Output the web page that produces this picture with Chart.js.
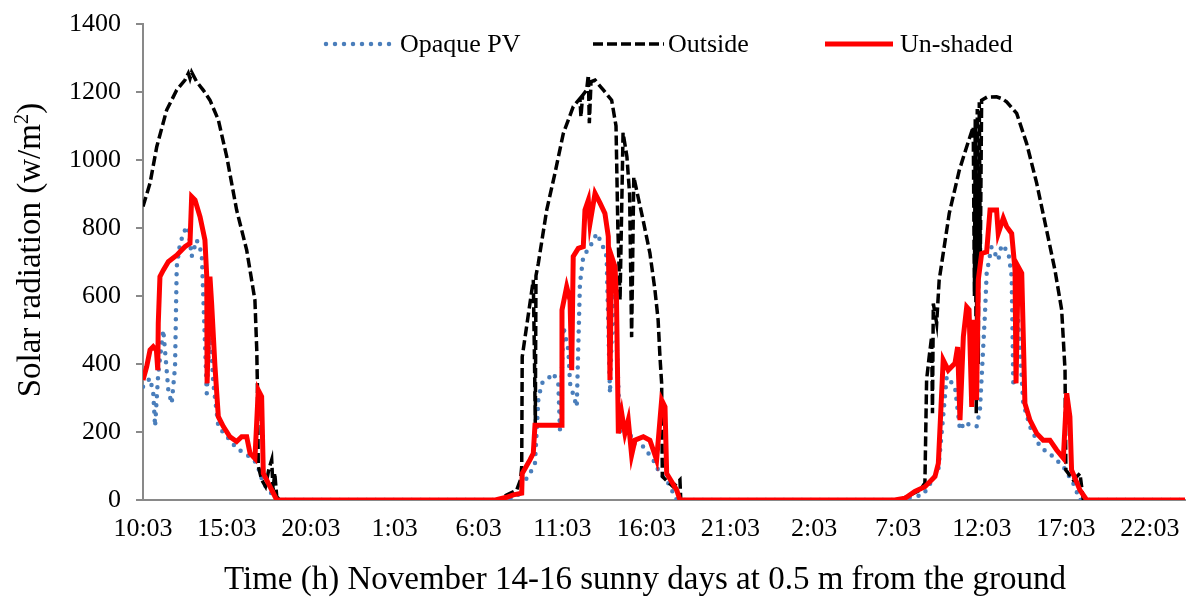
<!DOCTYPE html>
<html>
<head>
<meta charset="utf-8">
<script src="https://cdn.jsdelivr.net/npm/chart.js@4.4.0/dist/chart.umd.min.js"></script>
<style>
  body { margin: 0; background: #fff; }
  #wrap { width: 1190px; height: 607px; }
</style>
</head>
<body>
<div id="wrap"><canvas id="solarChart"></canvas></div>
<script>
// x = hours since 10:03 on November 14
const tickLabels = ['10:03', '15:03', '20:03', '1:03', '6:03', '11:03', '16:03',
  '21:03', '2:03', '7:03', '12:03', '17:03', '22:03'];

const opaquePV = [
  [0, 333], [0.42, 358], [0.61, 314], [0.72, 216], [0.82, 300], [0.91, 373], [1.21, 500],
  [1.41, 382], [1.51, 323], [1.71, 284], [1.91, 392], [2.01, 686], [2.21, 755], [2.5, 794],
  [2.7, 804], [2.9, 716], [3.2, 765], [3.5, 726], [3.8, 314], [3.99, 520], [4.19, 343],
  [4.49, 216], [5.18, 176], [5.58, 152], [6.38, 127], [6.78, 108], [7.17, 49], [7.97, 0],
  [21.5, 0], [22.3, 10], [22.66, 49], [23.06, 78], [23.36, 108], [23.56, 294], [23.76, 343],
  [24.06, 353], [24.45, 373], [24.75, 343], [24.85, 206], [25.05, 510], [25.35, 441],
  [25.45, 343], [25.85, 274], [26.04, 637], [26.24, 716], [26.64, 745], [27.04, 784],
  [27.34, 755], [27.63, 716], [27.83, 314], [28.03, 637], [28.13, 600], [28.43, 196],
  [28.83, 225], [29.22, 167], [29.82, 157], [30.41, 118], [30.81, 78], [31.21, 59], [31.81, 0],
  [45.0, 0], [46.5, 15], [47.4, 88], [47.9, 363], [48.39, 333], [48.69, 206], [48.99, 230],
  [49.28, 220], [49.68, 216], [49.88, 265], [50.18, 549], [50.28, 667], [50.57, 745],
  [50.97, 706], [51.17, 750], [51.57, 730], [51.77, 657], [51.87, 333], [52.16, 529],
  [52.46, 284], [52.86, 216], [53.46, 157], [54.25, 127], [54.85, 98], [55.44, 49],
  [55.84, 0], [62.1, 0]
];

const outside = [
  [0, 863], [0.42, 932], [0.82, 1039], [1.41, 1147], [2.01, 1206], [2.5, 1235], [2.7, 1255],
  [2.8, 1240], [2.9, 1258], [3.2, 1230], [3.6, 1205], [3.99, 1176], [4.49, 1118], [4.99, 1010],
  [5.58, 853], [6.18, 735], [6.67, 588], [6.78, 441], [6.82, 330], [6.87, 100], [7.07, 60],
  [7.3, 40], [7.5, 90], [7.67, 118], [7.75, 30], [7.85, 80], [7.97, 10], [8.16, 0],
  [21.3, 0], [21.67, 15], [22.27, 29], [22.5, 60], [22.57, 98], [22.6, 421], [23.06, 578],
  [23.26, 647], [23.33, 420], [23.38, 216], [23.42, 660], [23.56, 696], [24.06, 853],
  [24.55, 961], [25.05, 1078], [25.64, 1157], [26.04, 1181], [26.1, 1127], [26.2, 1190],
  [26.44, 1206], [26.54, 1250], [26.6, 1108], [26.7, 1230], [26.94, 1235], [27.43, 1206],
  [27.93, 1176], [28.19, 1100], [28.3, 800], [28.43, 588], [28.61, 1080], [28.84, 1010],
  [29.0, 900], [29.12, 479], [29.25, 950], [29.38, 920], [29.8, 824], [30.21, 726],
  [30.51, 618], [30.7, 529], [30.81, 420], [30.91, 343], [30.95, 69], [31.6, 39], [32.0, 59],
  [32.05, 0],
  [45.11, 0], [46.3, 29], [46.6, 50], [46.7, 353], [46.85, 420], [47.0, 480], [47.05, 255],
  [47.1, 578], [47.3, 520], [47.45, 647], [48.05, 843], [48.65, 970], [49.09, 1039],
  [49.48, 1098], [49.55, 600], [49.6, 1120], [49.66, 255], [49.72, 1150], [49.78, 400],
  [49.84, 1170], [49.9, 700], [49.98, 1176], [50.3, 1185], [50.87, 1186], [51.2, 1180],
  [51.47, 1171], [52.07, 1137], [52.66, 1049], [53.26, 932], [53.85, 794], [54.35, 676],
  [54.75, 559], [54.95, 382], [55.0, 88], [55.44, 59], [55.84, 78], [56.04, 0], [62.1, 0]
];

const unShaded = [
  [0, 353], [0.22, 392], [0.42, 441], [0.61, 451], [0.8, 440], [0.88, 382], [0.91, 520],
  [1.01, 657], [1.21, 676], [1.51, 701], [2.01, 720], [2.5, 745], [2.8, 755], [2.9, 892],
  [3.1, 882], [3.4, 833], [3.69, 765], [3.8, 657], [3.82, 343], [3.99, 657], [4.09, 578],
  [4.29, 392], [4.49, 245], [4.79, 216], [5.18, 186], [5.58, 172], [5.88, 186], [6.18, 186],
  [6.38, 137], [6.67, 122], [6.87, 323], [7.07, 304], [7.17, 78], [7.57, 39], [7.97, 0],
  [21.0, 0], [21.67, 8], [22.07, 15], [22.57, 20], [22.6, 78], [23.06, 118], [23.26, 137],
  [23.36, 220], [24.95, 220], [24.97, 559], [25.25, 627], [25.45, 588], [25.55, 382],
  [25.64, 716], [25.94, 740], [26.24, 745], [26.34, 853], [26.54, 882], [26.64, 814],
  [26.94, 902], [27.24, 873], [27.53, 843], [27.73, 775], [27.83, 353], [27.93, 716],
  [28.13, 686], [28.22, 588], [28.33, 196], [28.53, 255], [28.72, 196], [28.92, 235],
  [29.12, 132], [29.32, 176], [29.82, 186], [30.21, 176], [30.61, 118], [30.91, 294],
  [31.11, 274], [31.21, 78], [31.81, 29], [32.0, 0],
  [44.8, 0], [45.41, 5], [46.0, 25], [46.6, 39], [47.2, 69], [47.4, 108], [47.69, 412],
  [47.99, 382], [48.39, 402], [48.55, 450], [48.69, 235], [48.89, 480], [49.09, 568],
  [49.23, 560], [49.39, 274], [49.48, 530], [49.68, 294], [49.78, 647], [49.98, 725],
  [50.28, 730], [50.48, 853], [50.87, 853], [50.97, 784], [51.27, 829], [51.47, 804],
  [51.77, 784], [51.97, 676], [52.03, 343], [52.16, 686], [52.37, 667], [52.56, 284],
  [52.86, 235], [53.26, 196], [53.65, 176], [54.05, 176], [54.45, 147], [54.85, 123],
  [55.05, 314], [55.24, 245], [55.34, 88], [55.84, 29], [56.24, 0], [62.1, 0]
];

const serif = "'Liberation Serif', 'Times New Roman', serif";
const axisGray = '#898989';

const toPoints = rows => rows.map(r => ({ x: r[0], y: r[1] }));

// legend and axis titles drawn by hand so they sit where the original has them
const keyPlugin = {
  id: 'seriesKey',
  afterDraw(chart) {
    const ctx = chart.ctx;
    const items = [
      { ds: 0, x0: 326, x1: 393, tx: 400 },
      { ds: 1, x0: 593, x1: 664, tx: 668 },
      { ds: 2, x0: 825, x1: 893, tx: 900 },
    ];
    const y = 44;
    ctx.save();
    items.forEach(it => {
      const d = chart.data.datasets[it.ds];
      ctx.beginPath();
      ctx.strokeStyle = d.borderColor;
      ctx.lineWidth = d.borderWidth;
      ctx.lineCap = d.borderCapStyle || 'butt';
      ctx.setLineDash(d.borderDash || []);
      ctx.moveTo(it.x0, y);
      ctx.lineTo(it.x1, y);
      ctx.stroke();
      ctx.setLineDash([]);
      ctx.fillStyle = '#000';
      ctx.font = '26px ' + serif;
      ctx.textBaseline = 'middle';
      ctx.textAlign = 'left';
      ctx.fillText(d.label, it.tx, y + 1);
    });

    // x title
    ctx.font = '33px ' + serif;
    ctx.textAlign = 'center';
    ctx.textBaseline = 'middle';
    ctx.fillText('Time (h) November 14-16 sunny days at 0.5 m from the ground', 645, 580);

    // y title with superscript
    ctx.translate(31, 250);
    ctx.rotate(-Math.PI / 2);
    ctx.textAlign = 'left';
    const main = 'Solar radiation (w/m';
    ctx.font = '33px ' + serif;
    const w1 = ctx.measureText(main).width;
    const w3 = ctx.measureText(')').width;
    ctx.font = '21px ' + serif;
    const w2 = ctx.measureText('2').width;
    let x = -(w1 + w2 + w3) / 2;
    ctx.font = '33px ' + serif;
    ctx.fillText(main, x, 0);
    x += w1;
    ctx.font = '21px ' + serif;
    ctx.fillText('2', x, -9);
    x += w2;
    ctx.font = '33px ' + serif;
    ctx.fillText(')', x, 0);
    ctx.restore();
  }
};

new Chart(document.getElementById('solarChart'), {
  type: 'line',
  data: {
    datasets: [
      {
        label: 'Opaque PV',
        data: toPoints(opaquePV),
        borderColor: '#4a7ebb',
        borderWidth: 4.5,
        borderDash: [0, 9],
        borderCapStyle: 'round',
        order: 3,
      },
      {
        label: 'Outside',
        data: toPoints(outside),
        borderColor: '#000000',
        borderWidth: 3.5,
        borderDash: [10, 4],
        order: 2,
      },
      {
        label: 'Un-shaded',
        data: toPoints(unShaded),
        borderColor: '#ff0000',
        borderWidth: 5,
        order: 1,
      },
    ],
  },
  options: {
    responsive: true,
    maintainAspectRatio: false,
    animation: false,
    layout: { autoPadding: false, padding: { top: 24, right: 5, left: 0, bottom: 0 } },
    elements: { point: { radius: 0 }, line: { tension: 0 } },
    plugins: { legend: { display: false }, tooltip: { enabled: false } },
    scales: {
      x: {
        type: 'linear',
        min: 0,
        max: 62.1,
        afterBuildTicks: scale => {
          scale.ticks = tickLabels.map((_, i) => ({ value: i * 5 }));
        },
        afterFit: scale => { scale.height = 107; },
        ticks: {
          callback: v => tickLabels[Math.round(v / 5)],
          autoSkip: false,
          maxRotation: 0,
          padding: 6,
          color: '#000',
          font: { family: serif, size: 26 },
        },
        grid: { display: false },
        border: { color: axisGray, width: 2 },
      },
      y: {
        min: 0,
        max: 1400,
        afterFit: scale => { scale.width = 143; },
        ticks: {
          stepSize: 200,
          padding: 15,
          color: '#000',
          font: { family: serif, size: 26, lineHeight: 0.6 },
          callback: v => String(v),
        },
        grid: { drawOnChartArea: false, tickLength: 7, color: axisGray, lineWidth: 2 },
        border: { color: axisGray, width: 2 },
      },
    },
  },
  plugins: [keyPlugin],
});
</script>
</body>
</html>
